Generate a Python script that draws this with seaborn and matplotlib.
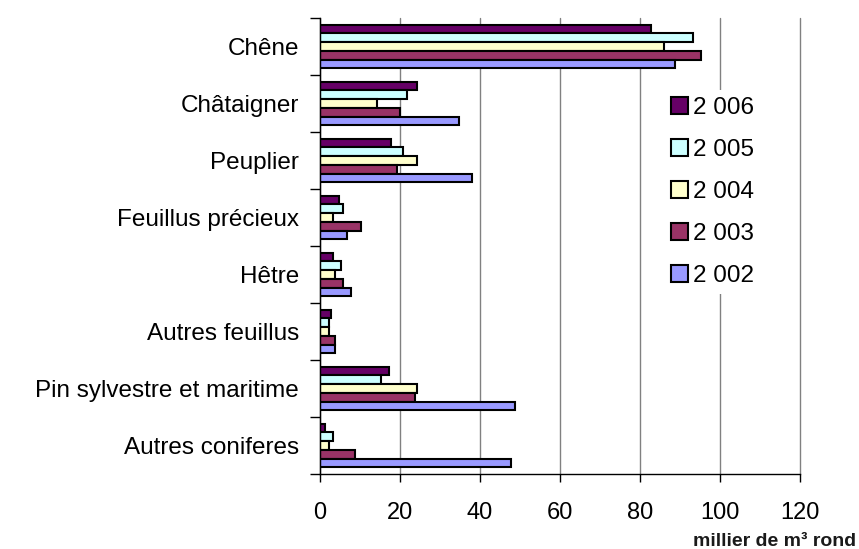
import pandas as pd
import matplotlib
matplotlib.use('Agg')
import matplotlib.pyplot as plt
import seaborn as sns
import numpy as np

# ------------------- Data -------------------
essences = ['Chêne', 'Châtaigner', 'Peuplier', 'Feuillus précieux', 'Hêtre',
            'Autres feuillus', 'Pin sylvestre et maritime', 'Autres coniferes']
years = ['2 006', '2 005', '2 004', '2 003', '2 002']

v2006 = [82.8, 24.3, 17.8, 4.8, 3.3, 2.8, 17.3, 1.3]
v2005 = [93.2, 21.8, 20.8, 5.8, 5.3, 2.2, 15.3, 3.3]
v2004 = [85.9, 14.3, 24.3, 3.2, 3.8, 2.3, 24.3, 2.3]
v2003 = [95.3, 19.9, 19.2, 10.3, 5.8, 3.8, 23.8, 8.8]
v2002 = [88.8, 34.8, 37.9, 6.8, 7.8, 3.8, 48.8, 47.8]

colors = ['#660066', '#CCFFFF', '#FFFFCC', '#993366', '#9999FF']

series = [v2006, v2005, v2004, v2003, v2002]
rows = []
for yr, vals in zip(years, series):
    for ess, v in zip(essences, vals):
        rows.append({'Essence': ess, 'Annee': yr, 'Volume': v})
df = pd.DataFrame(rows)

# ------------------- Plot -------------------
sns.set_style('white')
plt.rcParams['font.family'] = ['Liberation Sans', 'DejaVu Sans']
plt.rcParams['text.color'] = 'black'
plt.rcParams['xtick.color'] = 'black'
plt.rcParams['ytick.color'] = 'black'

fig = plt.figure(figsize=(8.59, 5.49), dpi=100)
ax = fig.add_axes([320/859, 1 - 474/549, 480/859, 456/549])

sns.barplot(data=df, x='Volume', y='Essence', hue='Annee', order=essences,
            hue_order=years, palette=colors, orient='h', width=0.77,
            edgecolor='black', linewidth=1.5, saturation=1, ax=ax)

ax.set_xlim(0, 120)
ax.set_ylim(7.5, -0.5)
ax.set_xticks(np.arange(0, 121, 20))
ax.tick_params(axis='x', labelsize=17, length=6, width=1, direction='out',
               pad=14, colors='black', bottom=True)
ax.tick_params(axis='y', which='major', labelsize=17.5, length=0, pad=15,
               labelcolor='black')
ax.set_yticks(np.arange(-0.5, 8, 1), minor=True)
ax.tick_params(axis='y', which='minor', length=7, width=1, direction='out',
               left=True, color='black')
ax.grid(False)
ax.xaxis.grid(True, color='#808080', linewidth=1)
for gl in ax.get_xgridlines():
    gl.set_clip_on(False)
ax.set_axisbelow(True)
for s in ['top', 'right']:
    ax.spines[s].set_visible(False)
for s in ['left', 'bottom']:
    ax.spines[s].set_color('black')
    ax.spines[s].set_linewidth(1)
ax.set_xlabel('')
ax.set_ylabel('')

handles, labels = ax.get_legend_handles_labels()
leg = ax.legend(handles, labels, loc='center left',
                bbox_to_anchor=(652/859, 1 - 192/549), bbox_transform=fig.transFigure,
                fontsize=17.5, frameon=True, facecolor='white', edgecolor='none',
                framealpha=1, fancybox=False, handlelength=0.7, handleheight=0.7,
                handletextpad=0.2, labelspacing=0.82, borderpad=0.3)
for t in leg.get_texts():
    t.set_color('black')

fig.text(856/859, 1 - 541/549, 'millier de m³ rond', ha='right', va='center',
         fontsize=14, fontweight='bold', color='#1a1a1a')

fig.savefig('out.png', dpi=100)
